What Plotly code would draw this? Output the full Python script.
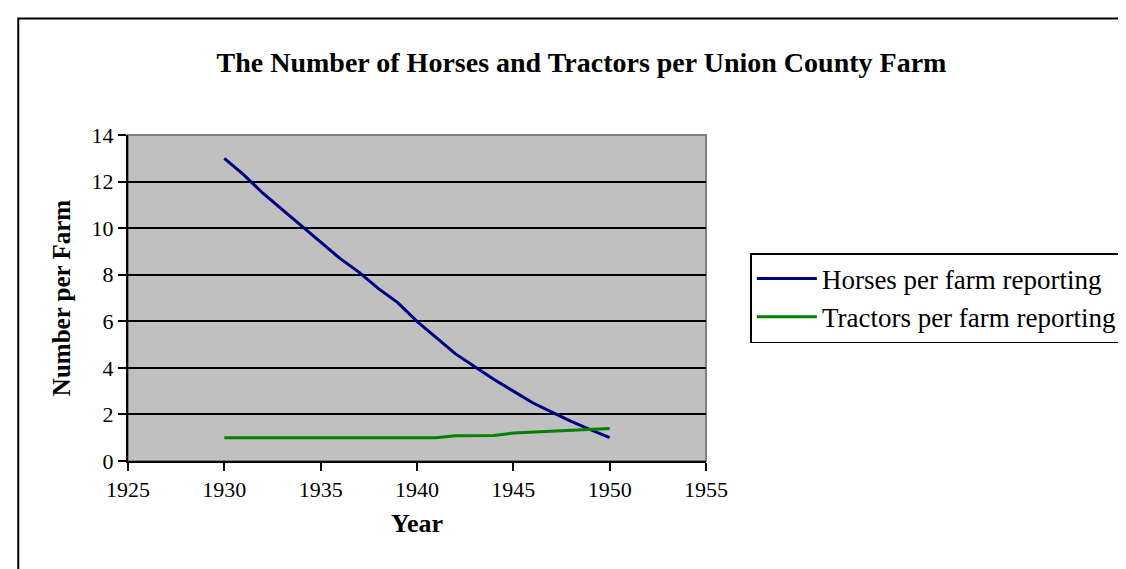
import plotly.graph_objects as go

# ---- data ----
years = [1930, 1931, 1932, 1933, 1934, 1935, 1936, 1937, 1938, 1939, 1940,
         1941, 1942, 1943, 1944, 1945, 1946, 1947, 1948, 1949, 1950]
horses = [13.0, 12.3, 11.5, 10.8, 10.1, 9.4, 8.7, 8.1, 7.4, 6.8, 6.0,
          5.3, 4.6, 4.05, 3.5, 3.0, 2.5, 2.1, 1.7, 1.35, 1.0]
tractors = [1.0, 1.0, 1.0, 1.0, 1.0, 1.0, 1.0, 1.0, 1.0, 1.0, 1.0,
            1.0, 1.08, 1.1, 1.1, 1.2, 1.24, 1.28, 1.32, 1.36, 1.4]
series_names = ["Horses per farm reporting", "Tractors per farm reporting"]
title_text = "The Number of Horses and Tractors per Union County Farm"
x_title = "Year"
y_title = "Number per Farm"
grid_values = [2, 4, 6, 8, 10, 12]

FONT = "Liberation Serif, Times New Roman, serif"

fig = go.Figure()
fig.add_trace(go.Scatter(x=years, y=horses, mode="lines", name=series_names[0],
                         line=dict(color="#000080", width=3)))
fig.add_trace(go.Scatter(x=years, y=tractors, mode="lines", name=series_names[1],
                         line=dict(color="#008000", width=3)))

L, R, T, B = 120, 1126 - 712.5, 127, 569 - 453
W, H = 1126, 569
pw, ph = W - L - R, H - T - B

def px(xp):
    return (xp - L) / pw

def py(yp):
    return (H - B - yp) / ph

fig.update_layout(
    width=W, height=H,
    margin=dict(l=L, r=R, t=T, b=B, pad=0),
    paper_bgcolor="white",
    plot_bgcolor="#C0C0C0",
    font=dict(family=FONT, color="black", size=21),
    showlegend=True,
    title=dict(text="<b>" + title_text + "</b>", xref="container", x=573.5 / W,
               xanchor="center", yref="container", y=1 - 54 / H, yanchor="middle",
               font=dict(size=28, family=FONT)),
    legend=dict(x=px(758), y=py(245), xanchor="left", yanchor="top",
                bgcolor="white", bordercolor="black", borderwidth=1.5,
                font=dict(size=27, family=FONT), tracegroupgap=0,
                itemwidth=60),
    xaxis=dict(range=[1925, 1955], dtick=5, tick0=1925, showgrid=False,
               zeroline=False, showline=True, linecolor="black", linewidth=2,
               ticks="outside", ticklen=8, tickwidth=1.5, tickcolor="black",
               tickfont=dict(size=22),
               title=dict(text="<b>" + x_title + "</b>", font=dict(size=26), standoff=12)),
    yaxis=dict(range=[0, 14], dtick=2, showgrid=False,
               minor=dict(tickmode="array", tickvals=grid_values, showgrid=True,
                          gridcolor="black", gridwidth=1.5, ticks=""),
               zeroline=False, showline=True, linecolor="black", linewidth=2,
               ticks="outside", ticklen=8, tickwidth=1.5, tickcolor="black",
               tickfont=dict(size=22),
               title=dict(text="<b>" + y_title + "</b>", font=dict(size=25), standoff=14)),
    shapes=[
        # grey plot-area frame (top and right edges)
        dict(type="rect", xref="paper", yref="paper", x0=0, y0=0, x1=1, y1=1,
             line=dict(color="#808080", width=2), layer="below"),
        # outer chart border
        dict(type="rect", xref="paper", yref="paper",
             x0=px(7.5), y0=py(620), x1=px(1140), y1=py(10.5),
             line=dict(color="black", width=2)),
    ],
)

fig.write_html("out.html")
